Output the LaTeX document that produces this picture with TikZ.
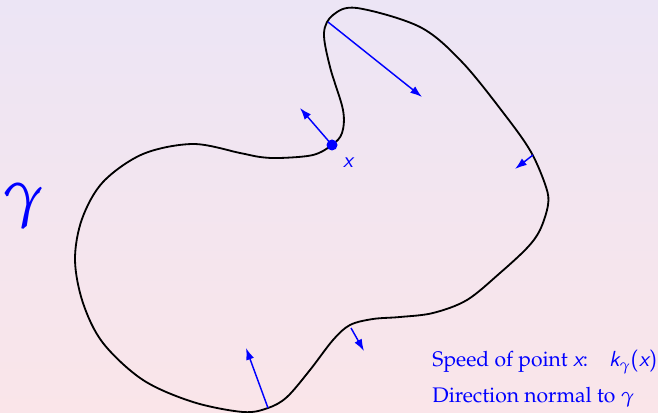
\documentclass[tikz,border=0pt]{standalone}
\usepackage[T1]{fontenc}
\usepackage{mathpazo}
\usetikzlibrary{arrows.meta}
\definecolor{fondhaut}{RGB}{236,229,245}
\definecolor{fondbas}{RGB}{250,229,233}
% lettres sans serif penchees
\newcommand{\sfpenche}[1]{{\fontencoding{OT1}\fontfamily{cmss}\fontshape{sl}\selectfont #1}}
\newcommand{\sfdroit}[1]{{\fontencoding{OT1}\fontfamily{cmss}\fontshape{n}\selectfont #1}}
\begin{document}
\begin{tikzpicture}[x=0.55pt,y=-0.55pt,
  normale/.style={blue,line width=0.8pt,-{Latex[length=6.5pt,width=4.5pt]}},
  courbe/.style={black,line width=1pt},
  texte/.style={blue,font=\fontsize{11.6}{14}\selectfont}]
% Fond
\shade[top color=fondhaut,bottom color=fondbas] (0,0) rectangle (658,413);
\useasboundingbox (0,0) rectangle (658,413);
% Courbe gamma
\draw[courbe] plot[smooth cycle,tension=0.55] coordinates {
  (357,8) (420,27) (462,62) (505,115) (531,152) (546,187) (548,205)
  (540,230) (527,248) (500,273) (467,300) (433,313) (400,317) (373,319)
  (350,325) (333,340) (310,370) (287,397) (268,408) (243,412) (193,402)
  (143,380) (103,343) (83,303) (75,260) (82,219) (103,182) (143,154)
  (193,144) (240,153) (260,157) (280,158) (313,155) (332,145) (342,133)
  (343,110) (330,67) (324,33) (333,15)};
% Points de la courbe et bouts des normales
\coordinate (p1) at (332,145); \coordinate (q1) at (300,108);
\coordinate (p2) at (328,22);  \coordinate (q2) at (422,97);
\coordinate (p3) at (533,155); \coordinate (q3) at (515,169);
\coordinate (p4) at (351,328); \coordinate (q4) at (364,351);
\coordinate (p5) at (268,408); \coordinate (q5) at (246,348);
\draw[normale] (p1) -- (q1);
\draw[normale] (p2) -- (q2);
\draw[normale] (p3) -- (q3);
\draw[normale] (p4) -- (q4);
\draw[normale] (p5) -- (q5);
\fill[blue] (p1) circle (5.5);
\node[texte] (lx) at (348,163) {\sfpenche{x}};
\node[blue] (gamma) at (23,206) {\fontsize{36}{40}\selectfont$\gamma$};
\node[texte,anchor=base west] (vitesse) at (426,367)
  {Speed of point \sfpenche{x}:\quad\sfpenche{k}$_\gamma$\sfdroit{(}\sfpenche{x}\sfdroit{)}};
\node[texte,anchor=base west] (direction) at (426,403) {Direction normal to $\gamma$};
\end{tikzpicture}
\end{document}
